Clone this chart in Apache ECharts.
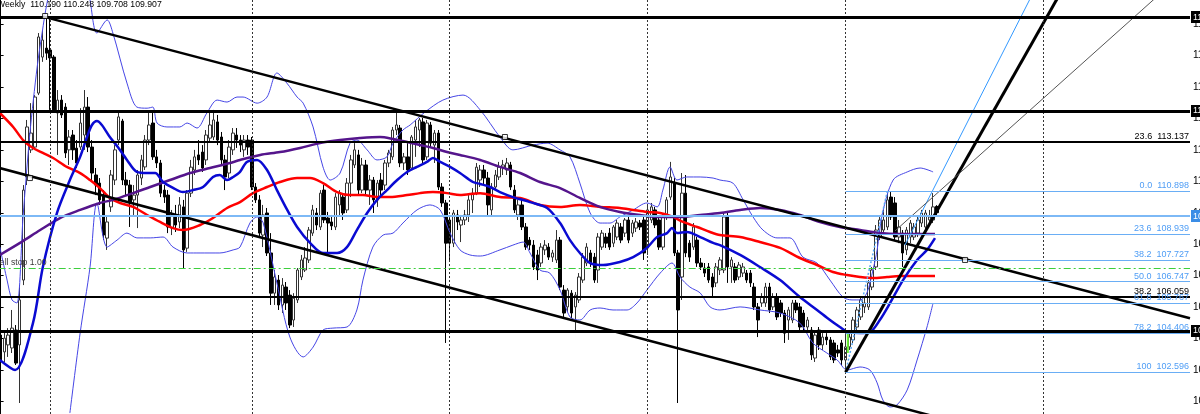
<!DOCTYPE html>
<html><head><meta charset="utf-8">
<script src="https://cdn.jsdelivr.net/npm/echarts/dist/echarts.min.js"></script>
<style>html,body{margin:0;padding:0;background:#fff;overflow:hidden}#c{width:1200px;height:414px}</style>
</head><body><div id="c"></div>
<script>
// ---- data (weekly candles, prices) ----
const weekCount = 313;
const categories = Array.from({length: weekCount}, (_, i) => 'W' + i);
const priceTicks = [101.26,102.70,104.14,105.58,107.02,108.46,109.90,111.34,112.78,114.22,115.66,117.10,118.54];
const yearGridWeeks = [13, 66, 118, 170, 222, 274];
const headerText = 'Weekly  110.190 110.248 109.708 109.907';
// [open, close, low, high]
const ohlc = [
[104.30,103.16,101.33,104.53],[103.53,104.16,103.07,104.53],[103.85,104.30,103.30,104.62],[103.71,104.62,103.48,105.45],
[104.53,103.02,102.93,104.76],[103.85,105.91,101.19,106.59],[106.82,110.94,106.59,111.17],[111.54,113.83,111.17,114.15],
[112.78,113.55,112.64,114.92],[112.91,115.20,112.78,115.29],[115.38,117.95,115.29,118.13],[117.03,117.81,116.81,118.27],
[117.44,117.21,116.90,118.91],[117.35,116.99,114.61,118.86],[117.03,114.61,114.51,117.12],[114.47,115.06,112.55,115.52],
[115.06,114.38,114.24,115.29],[114.74,112.64,112.41,114.92],[112.78,113.37,112.09,113.69],[113.46,112.78,112.32,113.69],
[112.86,112.18,111.95,113.23],[112.91,114.01,112.78,114.69],[113.46,114.74,112.78,115.52],[114.74,112.91,112.68,115.20],
[112.91,111.72,111.40,113.23],[111.63,111.17,110.71,111.95],[111.26,110.49,110.26,111.49],[110.71,108.88,108.65,110.94],
[108.74,109.48,108.20,109.80],[110.17,111.63,109.94,111.86],[111.40,112.78,111.17,113.00],[113.23,114.29,113.00,114.51],
[114.10,111.40,111.17,114.20],[111.40,111.17,110.71,111.77],[111.17,110.35,109.25,111.40],[110.49,110.71,109.80,111.17],
[110.71,111.63,109.20,111.86],[111.49,112.32,111.17,112.55],[112.00,113.23,111.86,113.46],[113.23,113.92,113.00,114.51],
[114.01,112.46,112.32,114.47],[112.46,112.18,111.95,112.78],[112.18,110.80,110.62,112.32],[110.94,110.62,110.35,111.17],
[110.71,109.25,108.97,110.94],[109.20,109.80,108.88,110.03],[109.80,109.34,109.02,110.26],[109.48,110.26,109.20,110.62],
[110.17,108.20,107.37,110.49],[108.28,110.80,108.11,110.94],[110.80,111.99,110.62,112.32],[111.86,112.46,111.63,112.78],
[112.55,112.32,112.09,113.23],[112.68,111.95,111.77,113.00],[112.32,113.46,112.09,113.69],[113.32,113.92,113.14,114.51],
[113.37,114.15,113.23,114.61],[114.06,113.23,113.00,114.38],[113.37,112.32,112.09,113.60],[112.32,111.54,110.94,112.55],
[111.72,112.91,111.49,113.23],[112.78,113.55,112.55,113.78],[113.46,113.23,112.87,113.78],[113.23,113.00,112.68,113.46],
[112.78,113.23,112.46,113.46],[113.23,112.91,112.55,113.46],[113.23,111.08,110.94,113.37],[111.08,110.49,110.35,111.26],
[110.49,108.97,108.79,110.71],[108.88,109.80,108.33,110.26],[109.89,108.06,107.92,110.12],[108.06,106.22,105.68,108.97],
[106.22,106.96,105.68,107.28],[106.82,105.68,105.45,107.05],[105.68,106.59,105.31,106.91],[106.50,105.77,105.45,106.73],
[106.13,104.76,104.62,106.36],[104.99,105.99,104.67,106.22],[105.91,107.28,105.77,107.37],[106.96,107.74,106.82,107.97],
[107.28,107.83,107.19,108.33],[107.74,109.11,107.60,109.25],[108.97,110.03,108.84,110.26],[109.89,109.34,109.11,110.12],
[109.25,110.80,109.11,110.94],[110.94,109.57,109.43,111.17],[109.66,109.43,108.06,109.94],[109.48,109.30,109.11,109.80],
[109.25,110.62,109.11,110.80],[110.26,110.80,109.71,110.94],[110.62,109.89,109.57,110.80],[110.03,111.26,109.89,111.49],
[111.26,112.32,110.62,112.55],[112.09,112.78,111.95,113.09],[112.55,110.94,110.71,112.78],[110.94,112.09,110.80,112.41],
[112.09,110.94,110.71,112.32],[110.94,111.40,110.26,111.63],[111.40,110.49,109.89,111.54],[110.49,111.26,110.17,111.40],
[111.40,110.94,110.71,111.72],[111.17,112.18,110.94,112.32],[112.18,112.64,111.99,112.78],[112.46,113.69,112.32,113.83],
[113.69,113.92,113.46,114.47],[113.78,112.18,111.99,113.92],[112.18,112.46,111.86,112.64],[112.46,111.86,111.63,113.09],
[111.95,113.37,111.90,113.46],[113.23,113.83,112.46,114.15],[113.69,114.15,112.91,114.24],[114.06,112.32,112.18,114.24],
[112.46,114.01,112.32,114.15],[113.92,113.09,112.91,114.06],[113.00,113.55,112.18,113.69],[113.55,111.08,110.94,113.69],
[111.08,110.35,110.17,111.26],[110.35,108.51,103.94,110.49],[109.57,108.51,107.74,109.80],[108.51,109.89,108.33,110.03],
[109.80,109.48,109.11,110.03],[109.34,109.57,108.56,109.80],[109.57,109.80,109.34,110.03],[109.80,110.49,109.48,110.71],
[110.49,110.80,109.89,111.03],[110.80,111.99,110.71,112.18],[111.40,111.86,111.08,112.09],[111.86,111.49,111.17,112.09],
[111.49,110.26,109.80,111.77],[110.03,111.08,109.71,111.26],[111.08,111.63,110.94,111.86],[111.54,111.99,111.40,112.23],
[111.99,112.09,111.63,112.32],[111.86,112.18,111.63,112.41],[112.09,111.08,110.94,112.23],[110.94,110.03,109.89,111.17],
[109.80,110.26,109.57,110.49],[110.26,109.25,109.11,110.49],[109.25,108.33,108.20,109.43],[108.65,108.42,108.20,108.79],
[108.42,107.42,107.28,108.65],[107.97,107.28,106.82,108.20],[107.60,108.33,107.42,108.51],[108.20,108.42,107.97,108.65],
[108.33,107.87,107.74,108.51],[107.87,108.06,107.65,108.20],[107.74,108.65,107.60,109.11],[108.65,106.50,106.36,108.79],
[106.36,105.31,105.13,106.59],[105.59,106.36,105.36,106.45],[106.22,105.31,105.08,106.36],[105.59,106.13,104.53,106.27],
[105.91,106.96,105.77,107.14],[106.82,107.87,106.69,108.06],[107.60,108.33,107.46,108.51],[108.06,107.60,107.42,108.20],
[107.87,106.82,106.69,108.06],[107.28,108.79,106.69,108.97],[108.33,108.97,108.20,109.11],[108.79,108.51,108.29,108.97],
[108.97,108.33,108.20,109.20],[108.51,109.25,108.33,109.34],[108.79,109.43,108.65,109.57],[109.25,108.65,108.51,109.43],
[108.97,109.57,108.79,109.66],[109.57,108.65,108.51,109.71],[108.97,109.43,108.79,109.57],[109.20,109.48,109.02,109.66],
[109.43,109.25,109.11,109.57],[109.57,108.06,107.74,109.71],[108.29,110.03,107.97,110.26],[109.57,110.17,109.43,110.35],
[110.03,109.34,109.20,110.17],[109.57,108.33,108.20,109.71],[108.33,109.71,108.20,109.89],[109.71,110.49,109.57,110.62],
[110.62,111.54,110.49,112.23],[111.26,108.06,107.92,111.49],[108.06,105.45,101.19,108.20],[106.96,110.80,105.91,111.72],
[110.80,108.06,107.87,111.63],[108.51,107.87,107.65,108.65],[108.33,109.25,108.20,109.43],[108.65,107.60,107.42,108.79],
[107.60,107.42,107.28,107.83],[107.37,107.14,106.96,107.60],[107.42,106.82,106.69,107.60],[106.96,106.50,106.04,107.14],
[106.69,107.42,106.50,107.60],[107.28,107.74,107.05,107.87],[107.28,109.71,107.14,109.89],[109.71,107.42,106.69,109.89],
[107.42,107.74,106.69,107.87],[107.42,106.82,106.69,107.60],[106.96,107.51,106.82,107.65],[107.14,107.42,106.96,107.60],
[107.14,106.82,106.69,107.28],[107.14,106.69,106.50,107.28],[106.50,105.59,105.45,106.69],[105.59,104.99,104.21,105.77],
[105.77,106.04,105.59,106.22],[105.77,106.50,105.59,106.69],[106.50,105.45,105.31,106.69],[105.59,106.04,105.45,106.22],
[106.04,105.13,104.99,106.22],[105.77,105.31,105.13,105.91],[105.31,104.39,103.94,105.45],[104.99,105.45,104.08,105.59],
[104.99,105.77,104.85,105.91],[105.77,105.45,105.31,105.91],[105.59,104.67,104.53,105.77],[105.31,104.67,104.53,105.45],
[104.67,104.99,104.39,105.13],[104.53,103.39,103.16,104.67],[103.25,104.30,103.07,104.53],[104.53,103.85,103.62,104.67],
[103.85,104.21,103.62,104.39],[104.21,104.08,103.85,104.39],[104.08,103.30,103.16,104.21],[103.94,103.16,103.02,104.08],
[103.62,103.48,103.30,103.85],[103.94,103.16,102.93,104.08],[103.16,103.76,102.60,104.39],[103.76,104.21,103.62,104.39],
[104.08,104.99,103.94,105.13],[104.67,105.45,104.53,105.59],[105.13,105.91,104.99,106.04],[105.59,105.77,105.31,106.04],
[105.59,106.69,105.45,106.82],[106.50,107.28,106.36,107.42],[107.42,109.11,107.28,109.34],[108.79,109.57,108.65,109.71],
[109.11,109.57,108.88,110.03],[109.25,110.49,109.11,110.90],[110.62,109.71,109.57,110.85],[110.35,108.79,108.65,110.62],
[108.79,109.25,108.51,109.57],[108.97,108.06,107.42,109.11],[108.20,109.11,107.97,109.25],[108.79,109.43,108.51,109.57],
[108.79,109.25,108.65,109.43],[108.97,109.57,108.79,109.71],[109.43,109.89,109.25,110.03],[109.25,109.89,109.11,110.03],
[109.57,109.71,109.34,110.03],[109.57,110.17,109.43,110.80],[110.190,109.907,109.708,110.248]
];
// indicator curves read at sparse points: [week index, price]
const maBlue = [[-0.2,103.16],[3.8,102.70],[8.5,104.85],[11.1,107.42],[14.8,109.89],[18.2,111.40],[20.9,112.46],[22.7,113.37],[24.0,113.92],[25.3,114.10],[26.6,113.92],[28.7,113.37],[30.8,112.91],[33.2,112.32],[35.8,111.77],[38.5,111.72],[40.6,111.72],[42.7,111.31],[45.3,111.04],[47.9,110.85],[50.6,110.94],[53.2,111.08],[55.8,111.54],[57.6,111.63],[59.5,111.40],[61.1,111.54],[62.9,111.77],[64.7,112.23],[67.4,112.32],[70.0,111.86],[72.6,110.94],[75.3,110.03],[77.9,109.25],[81.3,108.52],[84.7,108.06],[88.4,108.06],[91.0,108.33],[93.6,109.11],[96.3,109.89],[98.9,110.49],[101.5,110.94],[104.2,111.40],[106.8,111.77],[109.4,112.00],[112.0,112.23],[113.6,112.41],[115.5,112.23],[118.1,112.00],[120.7,111.72],[124.1,111.31],[126.0,111.22],[128.6,111.08],[131.2,110.85],[134.6,110.62],[139.1,110.39],[143.6,110.12],[147.0,109.43],[149.6,108.65],[152.2,108.06],[154.9,107.60],[158.3,107.51],[162.7,107.65],[166.2,107.87],[169.8,108.29],[172.5,108.79],[175.1,108.97],[176.4,109.20],[177.7,108.97],[180.3,109.02],[183.8,108.79],[187.2,108.52],[189.0,108.42],[194.3,107.97],[199.5,107.42],[204.8,106.82],[210.0,106.04],[214.5,105.45],[217.9,104.99],[220.5,104.67],[222.6,104.44],[225.8,104.40],[228.4,104.44],[231.0,104.99],[233.7,105.77],[237.1,106.82],[240.8,107.74],[243.4,108.20],[245.5,108.74]];
const bandUpper = [[-0.2,108.33],[1.7,106.82],[3.0,105.91],[4.3,105.77],[5.9,109.71],[7.7,113.55],[9.6,116.57],[10.9,118.13],[12.2,119.51],[15.6,122.0],[21.0,122.0],[23.5,119.64],[25.3,118.13],[28.0,118.73],[29.5,118.13],[33.2,115.84],[35.8,114.74],[38.5,114.69],[40.0,114.74],[41.1,114.01],[43.7,113.83],[47.1,113.83],[49.0,114.01],[51.6,113.78],[54.2,114.47],[56.9,115.06],[59.5,114.97],[62.1,115.20],[63.7,115.20],[67.4,114.92],[70.0,115.20],[72.6,116.30],[75.2,115.84],[77.9,115.20],[79.5,114.92],[82.1,113.83],[84.7,112.00],[86.6,111.40],[89.2,111.72],[91.8,113.09],[93.6,113.23],[96.3,112.78],[98.9,112.32],[101.5,112.46],[103.1,113.09],[105.7,113.69],[107.6,113.92],[111.5,114.51],[116.2,115.06],[121.5,115.29],[126.0,114.61],[131.2,113.37],[134.6,112.78],[139.9,113.00],[143.6,113.09],[147.0,112.78],[149.6,112.46],[152.2,111.26],[154.9,109.89],[157.5,109.43],[160.1,109.43],[162.7,109.71],[166.2,110.03],[169.8,110.35],[172.5,110.17],[174.0,110.94],[175.9,112.00],[177.7,111.40],[180.3,111.54],[183.8,111.54],[187.2,111.49],[189.0,111.40],[192.4,111.26],[195.1,110.49],[197.7,109.71],[200.3,109.11],[204.0,108.75],[207.4,108.75],[210.8,107.87],[214.5,107.60],[217.9,106.82],[221.3,106.04],[223.7,105.91],[225.8,105.91],[227.6,106.23],[229.2,107.28],[230.3,108.20],[231.6,109.80],[234.5,111.40],[238.2,111.77],[241.6,111.95],[245.0,111.77]];
const bandLower = [[18.2,100.73],[20.9,104.40],[23.5,107.42],[25.3,110.35],[28.0,108.33],[30.6,108.65],[33.2,108.97],[35.8,108.75],[39.3,108.75],[42.7,108.79],[45.3,108.33],[49.0,108.06],[52.4,108.06],[57.6,108.06],[61.1,108.20],[62.9,108.33],[65.5,109.43],[67.4,109.71],[69.0,109.43],[72.6,106.68],[76.0,104.21],[79.5,103.30],[82.1,103.75],[84.7,104.53],[87.3,104.62],[91.0,104.67],[93.6,105.45],[95.2,106.82],[97.8,108.33],[100.5,108.88],[103.1,108.97],[105.7,109.43],[109.4,110.03],[112.8,110.26],[115.5,110.03],[118.1,108.97],[120.7,108.20],[123.3,107.97],[126.0,107.92],[131.2,108.20],[134.6,108.42],[137.3,108.56],[139.1,108.06],[141.7,107.28],[144.3,107.14],[147.0,106.36],[149.6,105.13],[152.2,104.99],[154.9,105.45],[157.5,105.54],[160.9,105.45],[164.6,105.45],[167.2,105.77],[169.8,106.36],[173.3,107.14],[176.4,107.60],[178.5,106.96],[181.1,106.50],[183.8,106.23],[186.4,105.59],[189.0,105.45],[194.3,105.59],[199.5,105.45],[204.8,105.31],[210.0,104.85],[213.4,103.94],[217.1,103.48],[219.8,103.16],[222.4,102.70],[225.8,102.84],[228.4,102.70],[230.3,102.11],[231.8,101.33],[233.7,101.01],[235.5,101.10],[238.2,101.79],[240.8,103.16],[243.4,104.67],[245.0,105.77]];
const maRed = [[-0.2,114.47],[3.3,113.83],[5.9,113.23],[8.5,112.87],[11.1,112.64],[13.8,112.41],[17.4,112.00],[20.9,111.72],[23.5,111.40],[26.1,111.03],[28.7,110.58],[31.4,110.35],[34.8,110.17],[38.5,109.80],[41.9,109.48],[45.3,109.20],[47.9,109.11],[52.4,109.34],[55.8,109.66],[59.5,110.12],[62.9,110.39],[66.3,110.80],[70.0,111.08],[73.4,111.31],[77.9,111.49],[81.3,111.49],[84.7,111.26],[88.4,110.85],[91.8,110.71],[95.2,110.71],[98.9,110.62],[102.3,110.62],[106.8,110.71],[110.2,110.80],[113.6,110.85],[117.3,110.80],[120.7,110.71],[126.0,110.80],[131.2,110.62],[136.5,110.58],[141.7,110.26],[147.0,110.17],[152.2,110.26],[157.5,110.17],[162.7,110.12],[166.2,110.03],[169.8,109.94],[173.3,109.89],[176.7,109.71],[179.3,109.48],[183.0,109.25],[186.4,109.02],[189.0,108.88],[194.3,108.79],[199.5,108.56],[204.8,108.29],[210.0,107.83],[214.5,107.51],[218.7,107.19],[222.4,107.05],[225.8,106.96],[229.2,106.91],[232.9,106.96],[236.3,107.00],[241.6,107.00],[245.5,107.00]];
const maPurple = [[-0.2,107.97],[5.1,108.52],[10.4,109.11],[15.6,109.66],[20.9,110.03],[26.1,110.35],[29.5,110.49],[34.8,110.80],[39.3,111.08],[44.5,111.40],[49.8,111.72],[55.0,111.95],[60.3,112.18],[62.9,112.32],[68.2,112.55],[73.4,112.68],[78.7,112.87],[83.9,113.09],[89.2,113.23],[94.4,113.32],[99.7,113.37],[103.1,113.28],[106.8,113.14],[110.2,113.00],[113.6,112.87],[117.3,112.68],[120.7,112.55],[126.0,112.32],[131.2,112.00],[136.5,111.72],[141.7,111.31],[147.0,111.03],[152.2,110.58],[157.5,110.17],[162.7,109.94],[168.0,109.80],[173.3,109.71],[178.5,109.71],[183.8,109.80],[189.0,109.89],[194.3,110.03],[199.5,110.12],[204.8,110.03],[210.0,109.80],[215.3,109.48],[220.5,109.25],[225.8,109.11],[231.0,108.97],[236.3,108.93],[241.6,108.93],[245.5,108.93]];
// drawn objects: trend lines [week index, price]
const channelUpper = [[11.7,118.86],[312.5,105.07]];
const channelLower = [[-0.5,111.96],[245,100.59]];
const trendThick = [[222,102.60],[280,120.44]];
const trendBlue = [[237.6,108.42],[273,120.56]];
const trendGray = [[235,109.07],[312.5,121.15]];
const fibBase = [[222,102.596],[233,110.898]];
const signalBar = [[222.6,104.40],[222.6,103.48]];
const anchors = [[11.7,118.91],[7.7,111.49],[132.5,113.37],[253.4,107.74]];
const thickLevels = [118.865, 114.560, 104.490];
const blackFib = [{lvl:'23.6', v:113.137},{lvl:'38.2', v:106.059},{lvl:'50.0', v:100.620}];
const blueFibStart = 222;
const blueFib = [{lvl:'0.0', v:110.898},{lvl:'23.6', v:108.939},{lvl:'38.2', v:107.727},{lvl:'50.0', v:106.747},{lvl:'61.8', v:105.767},{lvl:'78.2', v:104.406},{lvl:'100', v:102.596}];
const bidLevel = 109.75, bidText = '109.907';
const sellStop = 107.37, sellStopText = 'Sell stop 1.00';

// ---- chart ----
const FONT = 'Liberation Sans';
const axisEnd = weekCount - 0.5;
const chart = echarts.init(document.getElementById('c'));
function ln(name, data, color, width, extra) {
  return Object.assign({name, type:'line', xAxisIndex:1, yAxisIndex:0, data, symbol:'none', showSymbol:false,
    lineStyle:{color, width}, silent:true, animation:false, z:3, clip:true}, extra || {});
}
const levelMarks = [];
thickLevels.forEach(v => levelMarks.push({yAxis:v, name:v.toFixed(3), lineStyle:{color:'#000', width:3, type:'solid'},
  label:{show:true, position:'end', formatter:'{b}', backgroundColor:'#000', color:'#fff', padding:[2,2,1,2], fontSize:9, fontFamily:FONT, distance:1}}));
blackFib.forEach(f => levelMarks.push({yAxis:f.v, name:f.lvl + '  ' + f.v.toFixed(3), lineStyle:{color:'#000', width:2, type:'solid'},
  label:{show:true, position:'insideEndTop', formatter:'{b}', color:'#000', fontSize:9, fontFamily:FONT, distance:[1,1]}}));
levelMarks.push({yAxis:bidLevel, name:bidText, lineStyle:{color:'#7db9f6', width:2, type:'solid'},
  label:{show:true, position:'end', formatter:'{b}', backgroundColor:'#3b8de6', color:'#fff', padding:[2,2,1,2], fontSize:9, fontFamily:FONT, distance:1}});
levelMarks.push({yAxis:sellStop, name:'', lineStyle:{color:'#3ccf3c', width:1, type:[7,3,2,3]}, label:{show:false}});
const fibMarks = blueFib.map(f => [
  {coord:[blueFibStart, f.v], name:f.lvl + '  ' + f.v.toFixed(3)}, {coord:[axisEnd, f.v]}]);

const option = {
  animation:false,
  backgroundColor:'#ffffff',
  grid:{left:-1.3, right:10, top:0, bottom:0, containLabel:false, outerBoundsMode:'none'},
  xAxis:[
    {type:'category', data:categories, boundaryGap:true, show:false},
    {type:'value', min:-0.5, max:axisEnd, show:false}
  ],
  yAxis:{type:'value', position:'right', min:100.687, max:119.643, scale:true,
    axisLine:{show:true, lineStyle:{color:'#000', width:1}},
    axisTick:{show:true, length:3, customValues:priceTicks, lineStyle:{color:'#000'}},
    axisLabel:{customValues:priceTicks, formatter:v => v.toFixed(3), fontSize:10, fontFamily:FONT, color:'#000', margin:3},
    splitLine:{show:false}},
  graphic:[
    {type:'text', left:-3, top:0, style:{text:headerText, font:'8.7px "Liberation Sans"', fill:'#000'}, z:20},
    {type:'text', left:-6, top:258, style:{text:sellStopText, font:'8.7px "Liberation Sans"', fill:'#3a3a3a'}, z:20}
  ],
  series:[
    {name:'year lines', type:'line', xAxisIndex:1, data:[], z:1, silent:true,
      markLine:{symbol:['none','none'], silent:true, animation:false, label:{show:false},
        lineStyle:{color:'#333', width:1, type:[2,2]},
        data:yearGridWeeks.map(i => ({xAxis:i}))}},
    {name:'USDJPY', type:'candlestick', xAxisIndex:0, yAxisIndex:0, data:ohlc, barWidth:3, z:2, silent:true,
      itemStyle:{color:'#ffffff', color0:'#000000', borderColor:'#333', borderColor0:'#000', borderWidth:1}},
    ln('BB upper', bandUpper, '#4646e6', 1, {smooth:0.3}),
    ln('BB lower', bandLower, '#4646e6', 1, {smooth:0.3}),
    ln('MA red', maRed, '#ff0000', 2.5, {smooth:0.3}),
    ln('MA purple', maPurple, '#55158c', 2.5, {smooth:0.3}),
    ln('MA blue', maBlue, '#0a0ad2', 2.5, {smooth:0.3}),
    ln('channel upper', channelUpper, '#000', 2.5, {
      markLine:{symbol:['none','none'], silent:true, animation:false, data:levelMarks}}),
    ln('channel lower', channelLower, '#000', 2.5),
    ln('fib', [], '#6aaef5', 1, {
      markLine:{symbol:['none','none'], silent:true, animation:false,
        lineStyle:{color:'#6aaef5', width:1, type:'solid'},
        label:{show:true, position:'insideEndTop', formatter:'{b}', color:'#4f9df5', fontSize:9, fontFamily:FONT, distance:[1,1]},
        data:fibMarks}}),
    ln('fib base', fibBase, '#5aa8f5', 1.5, {lineStyle:{color:'#5aa8f5', width:1.5, type:[2,2]}}),
    ln('trend thick', trendThick, '#000', 3),
    ln('trend blue', trendBlue, '#3399ff', 1),
    ln('trend gray', trendGray, '#555', 1),
    ln('signal', signalBar, '#66ee33', 2),
    {name:'anchors', type:'scatter', xAxisIndex:1, data:anchors, symbol:'rect', symbolSize:5, silent:true, z:6,
      itemStyle:{color:'#fff', borderColor:'#000', borderWidth:1}}
  ]
};
chart.setOption(option);
</script></body></html>
